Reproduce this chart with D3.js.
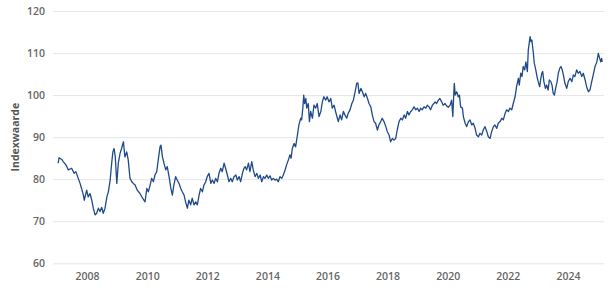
<!DOCTYPE html>
<html>
<head>
<meta charset="utf-8">
<script src="https://cdn.jsdelivr.net/npm/d3@7"></script>
<style>
  html, body { margin: 0; padding: 0; background: #fff; }
  svg { display: block; font-family: "Open Sans", "Noto Sans", sans-serif; }
</style>
</head>
<body>
<svg id="chart" width="611" height="291"></svg>
<script>
// ---- data (decimal years and index values) ----
const years = [
2007.04,2007.07,2007.16,2007.21,2007.30,2007.38,2007.49,2007.57,2007.63,2007.71,2007.77,2007.82,2007.88,2007.91,2007.99,
2008.04,2008.10,2008.16,2008.21,2008.27,2008.32,2008.38,2008.43,2008.49,2008.54,2008.60,2008.66,2008.71,2008.77,2008.82,2008.86,2008.90,2008.94,2008.99,
2009.04,2009.10,2009.15,2009.21,2009.26,2009.32,2009.37,2009.43,2009.49,2009.54,2009.60,2009.67,2009.76,2009.85,2009.93,2009.99,
2010.04,2010.10,2010.15,2010.21,2010.26,2010.32,2010.37,2010.43,2010.46,2010.51,2010.56,2010.62,2010.67,2010.73,2010.79,2010.84,2010.89,2010.95,
2011.00,2011.06,2011.12,2011.17,2011.23,2011.28,2011.34,2011.39,2011.45,2011.50,2011.56,2011.62,2011.67,2011.73,2011.78,2011.84,2011.89,2011.95,
2012.00,2012.06,2012.12,2012.17,2012.23,2012.28,2012.34,2012.39,2012.45,2012.50,2012.56,2012.61,2012.67,2012.72,2012.78,2012.83,2012.89,2012.95,
2013.00,2013.06,2013.11,2013.17,2013.22,2013.26,2013.31,2013.37,2013.42,2013.48,2013.53,2013.59,2013.65,2013.70,2013.76,2013.81,2013.87,2013.92,2013.98,
2014.03,2014.09,2014.14,2014.20,2014.25,2014.31,2014.36,2014.42,2014.48,2014.53,2014.59,2014.64,2014.70,2014.75,2014.79,2014.83,2014.89,2014.94,
2015.00,2015.05,2015.11,2015.14,2015.18,2015.21,2015.24,2015.28,2015.31,2015.36,2015.40,2015.44,2015.50,2015.55,2015.61,2015.66,2015.72,2015.78,2015.83,2015.88,2015.94,2015.99,
2016.05,2016.11,2016.16,2016.22,2016.27,2016.33,2016.36,2016.42,2016.47,2016.53,2016.58,2016.64,2016.69,2016.75,2016.81,2016.86,2016.92,2016.97,
2017.01,2017.05,2017.11,2017.16,2017.22,2017.27,2017.33,2017.38,2017.44,2017.49,2017.55,2017.60,2017.66,2017.71,2017.77,2017.82,2017.88,2017.94,2017.99,
2018.05,2018.10,2018.16,2018.21,2018.27,2018.32,2018.38,2018.44,2018.49,2018.55,2018.60,2018.66,2018.71,2018.77,2018.82,2018.88,2018.94,2018.99,
2019.05,2019.10,2019.15,2019.21,2019.27,2019.32,2019.38,2019.43,2019.49,2019.54,2019.58,2019.63,2019.69,2019.74,2019.80,2019.85,2019.91,2019.97,
2020.02,2020.08,2020.13,2020.17,2020.20,2020.22,2020.25,2020.30,2020.35,2020.39,2020.43,2020.49,2020.52,2020.58,2020.63,2020.69,2020.74,2020.80,2020.85,2020.91,2020.96,
2021.02,2021.07,2021.13,2021.18,2021.24,2021.30,2021.35,2021.41,2021.46,2021.52,2021.57,2021.63,2021.68,2021.74,2021.80,2021.85,2021.91,2021.96,
2022.02,2022.07,2022.13,2022.18,2022.24,2022.29,2022.35,2022.38,2022.43,2022.47,2022.51,2022.56,2022.60,2022.65,2022.68,2022.74,2022.77,2022.80,2022.85,2022.88,2022.93,2022.97,
2023.01,2023.06,2023.09,2023.13,2023.16,2023.20,2023.25,2023.29,2023.34,2023.38,2023.43,2023.47,2023.51,2023.55,2023.59,2023.64,2023.68,2023.73,2023.77,2023.81,2023.86,2023.90,2023.96,
2024.01,2024.07,2024.13,2024.18,2024.23,2024.29,2024.34,2024.40,2024.46,2024.51,2024.57,2024.62,2024.68,2024.73,2024.79,2024.84,2024.90,2024.96,
2025.01,2025.04,2025.09,2025.12,2025.14
];
const values = [
83.8,85.1,84.7,84.2,83.4,82.2,82.6,81.4,81.8,80.2,79.0,77.8,76.2,75.0,77.4,
75.8,76.6,75.0,73.1,71.5,71.9,73.1,72.3,73.3,71.9,73.1,75.8,77.0,79.8,83.8,86.5,87.3,85.3,79.0,
83.8,86.2,87.3,88.9,85.3,86.5,84.6,80.2,79.4,79.0,78.6,77.4,76.6,75.5,74.6,77.8,
77.0,78.6,80.2,79.4,81.0,81.8,84.6,87.7,88.1,85.3,83.8,82.2,83.0,80.6,77.8,76.2,78.6,80.6,
79.8,79.0,77.8,77.0,76.2,74.6,73.1,75.0,73.9,75.5,73.9,74.6,73.9,76.2,77.8,77.0,78.6,79.4,
80.6,81.4,79.0,79.8,79.0,80.2,79.4,81.4,82.6,81.8,83.8,82.6,81.0,79.4,80.2,79.4,80.6,81.0,
79.8,80.6,79.4,81.4,82.6,83.0,82.2,83.8,81.8,84.2,82.2,80.6,81.4,80.2,81.0,79.4,80.6,80.2,81.0,
80.2,80.8,79.8,80.2,79.8,80.0,79.4,80.6,80.2,81.0,82.2,83.4,84.6,85.8,85.0,87.3,88.5,87.7,
90.5,92.9,94.5,94.1,96.9,100.0,98.0,99.2,96.9,98.0,93.7,96.1,94.5,97.6,96.9,98.0,94.9,96.1,98.4,99.6,98.8,99.6,
98.4,99.2,96.9,97.6,96.1,94.5,93.7,95.3,94.1,96.1,95.3,94.5,95.7,96.5,98.0,98.8,100.8,102.8,
102.9,100.4,101.6,100.8,99.6,100.4,99.2,98.0,97.2,95.3,93.7,93.3,91.7,92.9,93.7,94.5,93.7,92.5,91.3,
90.5,88.9,89.7,89.3,89.7,91.7,93.7,94.5,94.1,95.3,94.5,96.1,95.3,96.1,96.5,97.2,96.5,96.9,
96.1,96.9,96.5,97.2,96.9,97.6,97.2,96.5,97.6,98.0,98.4,98.0,98.8,99.2,98.4,97.6,98.0,97.4,
97.1,97.6,98.8,94.9,100.0,102.8,100.0,100.8,99.6,100.0,97.2,96.9,94.9,93.3,92.5,93.7,94.1,92.9,93.3,92.1,90.5,
90.1,90.9,90.5,91.7,92.5,91.3,90.1,89.7,91.3,92.5,92.9,92.1,93.3,93.7,94.5,94.1,95.7,96.5,
96.1,96.9,96.5,98.0,99.6,102.0,104.0,102.4,105.2,104.4,106.8,106.0,107.9,105.6,110.7,113.9,112.7,113.1,109.9,107.6,106.0,104.4,
103.2,102.0,103.6,105.2,105.6,103.2,101.6,102.4,101.2,103.6,103.2,102.4,100.4,100.0,101.6,103.2,105.2,106.4,106.8,106.0,104.4,102.8,101.6,
103.2,104.0,103.2,104.8,104.4,106.0,105.2,105.6,104.4,105.2,103.6,102.0,100.8,101.2,103.2,104.8,106.8,107.9,
109.9,109.1,107.9,108.7,107.9
];
const yTicks = [60, 70, 80, 90, 100, 110, 120];
const xTickYears = [2008, 2010, 2012, 2014, 2016, 2018, 2020, 2022, 2024];
const yTitle = "Indexwaarde";

// ---- helpers ----
function yearToDate(yv) {
  const yr = Math.floor(yv);
  const start = Date.UTC(yr, 0, 1), end = Date.UTC(yr + 1, 0, 1);
  return new Date(start + (yv - yr) * (end - start));
}
const data = years.map((yv, i) => ({ date: yearToDate(yv), value: values[i] }));

// ---- layout ----
const svg = d3.select("#chart");
const plotLeft = 53, plotRight = 604, plotTop = 11, plotBottom = 263.3;

const x = d3.scaleUtc()
  .domain([yearToDate(2006.869), yearToDate(2025.198)])
  .range([plotLeft, plotRight]);
const y = d3.scaleLinear().domain([60, 120]).range([plotBottom, plotTop]);

// gridlines + y labels
const yAxis = d3.axisLeft(y).tickValues(yTicks).tickSize(-(plotRight - plotLeft)).tickPadding(8);
const gy = svg.append("g").attr("transform", `translate(${plotLeft},0)`).call(yAxis);
gy.select(".domain").remove();
gy.selectAll(".tick line").attr("stroke", "#e6e6e6").attr("stroke-width", 1);
gy.selectAll(".tick text")
  .attr("fill", "#666").attr("font-size", "10.5px").attr("font-weight", 600)
  .attr("font-family", "'Open Sans', sans-serif");

// x axis labels
const xAxis = d3.axisBottom(x)
  .tickValues(xTickYears.map(v => new Date(Date.UTC(v, 0, 1))))
  .tickFormat(d3.utcFormat("%Y"))
  .tickSize(0).tickPadding(9);
const gx = svg.append("g").attr("transform", `translate(0,${plotBottom})`).call(xAxis);
gx.select(".domain").remove();
gx.selectAll(".tick text")
  .attr("fill", "#666").attr("font-size", "10.5px").attr("font-weight", 600)
  .attr("font-family", "'Open Sans', sans-serif");

// y title
svg.append("text")
  .attr("transform", `translate(19,${(plotTop + plotBottom) / 2}) rotate(-90)`)
  .attr("text-anchor", "middle")
  .attr("fill", "#555")
  .attr("font-size", "10.5px")
  .attr("font-weight", 700)
  .attr("font-family", "'Open Sans', sans-serif")
  .text(yTitle);

// line
const line = d3.line().x(d => x(d.date)).y(d => y(d.value));
svg.append("path")
  .datum(data)
  .attr("fill", "none")
  .attr("stroke", "#1f4a8a")
  .attr("stroke-width", 1.3)
  .attr("stroke-linejoin", "round")
  .attr("d", line);
</script>
</body>
</html>
